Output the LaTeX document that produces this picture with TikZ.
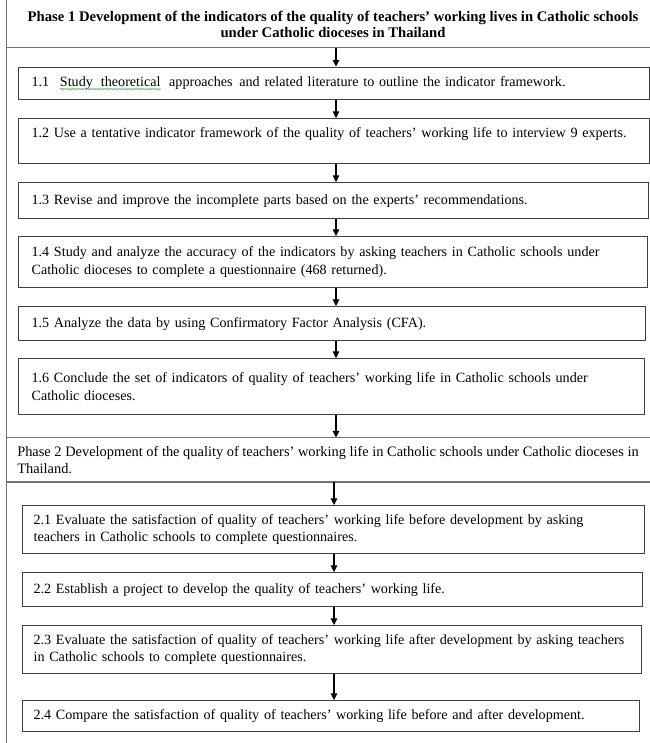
\documentclass[tikz,border=0pt]{standalone}
\usepackage{fontspec}
\setmainfont{Liberation Serif}
\usetikzlibrary{arrows.meta,decorations.pathmorphing}
\definecolor{boxc}{gray}{0.25}
\definecolor{linec}{gray}{0.45}
\definecolor{wavec}{rgb}{0.35,0.7,0.35}
\newsavebox\wavebox
\newcommand\gwave[1]{\sbox\wavebox{#1}\rlap{\usebox\wavebox}%
  \raisebox{-2.6pt}{\tikz{\draw[wavec, line width=0.45pt, decorate,
      decoration={snake, amplitude=0.55pt, segment length=2.2pt}] (0pt,0pt) -- (\wd\wavebox,0pt);}}}
\tikzset{
  stepbox/.style={draw=boxc, line width=0.9pt, anchor=north west, align=left,
    inner ysep=0pt, font=\fontsize{10.6}{13.1}\selectfont},
  sepline/.style={draw=linec, line width=0.9pt},
  flowarrow/.style={draw=black, line width=0.8pt, -{Triangle[length=5pt,width=5pt]}},
}
% name, x1, x2, y1, y2, padding (px), text
\newcommand\mybox[7]{%
  \pgfmathsetmacro\myBW{(#3-#2)*0.75}%
  \pgfmathsetmacro\myBH{(#5-#4)*0.75}%
  \pgfmathsetmacro\myPD{#6*0.75}%
  \pgfmathsetmacro\myTW{(#3-#2-2*#6)*0.75}%
  \node[stepbox, minimum width=\myBW pt, minimum height=\myBH pt,
        inner xsep=\myPD pt, text width=\myTW pt] (#1) at (#2,#4) {#7};}
\begin{document}
\begin{tikzpicture}[x=0.75pt, y=-0.75pt]
\useasboundingbox (0,0) rectangle (650,743);
% frame lines
\coordinate (tl) at (6.5,0);
\coordinate (bl) at (6.5,743);
\coordinate (rr) at (650,0);
\coordinate (s1) at (6.5,47.5);
\coordinate (s2a) at (6.5,437.5);
\coordinate (s2b) at (6.5,482);
\coordinate (ax) at (336,0);
\coordinate (bx) at (334,0);
\draw[sepline] (tl) -- (bl);
\draw[sepline] (s1) -- (s1 -| rr);
\draw[sepline] (s2a) -- (s2a -| rr);
\draw[sepline] (s2b) -- (s2b -| rr);
% headers
\node[font=\bfseries\fontsize{11}{12.2}\selectfont, align=center, inner sep=0pt] (h1) at (333,24.5)
  {Phase 1 Development of the indicators of the quality of teachers’ working lives in Catholic schools\\
   under Catholic dioceses in Thailand};
\node[font=\fontsize{10.8}{12.2}\selectfont, align=left, anchor=west, inner sep=0pt] (h2) at (17,460)
  {\mbox{Phase 2 Development of the quality of teachers’ working life in Catholic schools under Catholic dioceses in}\\
   Thailand.};
% phase 1 boxes
\mybox{b11}{18}{649}{66.5}{99}{13}{\mbox{1.1\hspace{8pt}\gwave{Study\hspace{6pt}theoretical}\hspace{6pt}approaches\hspace{5pt}and related literature to outline the indicator framework.}}
\mybox{b12}{18}{649}{118}{163}{13}{\mbox{1.2 Use a tentative indicator framework of the quality of teachers’ working life to interview 9 experts.}\\ \mbox{}}
\mybox{b13}{18}{648}{182}{218}{13}{\mbox{1.3 Revise and improve the incomplete parts based on the experts’ recommendations.}}
\mybox{b14}{18}{647}{236}{287}{13}{\mbox{1.4 Study and analyze the accuracy of the indicators by asking teachers in Catholic schools under}\\ \mbox{Catholic dioceses to complete a questionnaire (468 returned).}}
\mybox{b15}{18}{645}{306}{340}{13}{\mbox{1.5 Analyze the data by using Confirmatory Factor Analysis (CFA).}}
\mybox{b16}{18}{644}{358}{414}{13}{\mbox{1.6 Conclude the set of indicators of quality of teachers’ working life in Catholic schools under}\\ \mbox{Catholic dioceses.}}
% phase 2 boxes
\mybox{b21}{22}{644}{505}{553}{11}{\mbox{2.1 Evaluate the satisfaction of quality of teachers’ working life before development by asking}\\ \mbox{teachers in Catholic schools to complete questionnaires.}}
\mybox{b22}{22}{642}{572}{606}{11}{\mbox{2.2 Establish a project to develop the quality of teachers’ working life.}}
\mybox{b23}{22}{641}{625}{673}{11}{\mbox{2.3 Evaluate the satisfaction of quality of teachers’ working life after development by asking teachers}\\ \mbox{in Catholic schools to complete questionnaires.}}
\mybox{b24}{22}{639}{700}{731}{11}{\mbox{2.4 Compare the satisfaction of quality of teachers’ working life before and after development.}}
% arrows
\draw[flowarrow] (s1 -| ax) -- (b11.north -| ax);
\draw[flowarrow] (b11.south -| ax) -- (b12.north -| ax);
\draw[flowarrow] (b12.south -| ax) -- (b13.north -| ax);
\draw[flowarrow] (b13.south -| ax) -- (b14.north -| ax);
\draw[flowarrow] (b14.south -| ax) -- (b15.north -| ax);
\draw[flowarrow] (b15.south -| ax) -- (b16.north -| ax);
\draw[flowarrow] (b16.south -| ax) -- (s2a -| ax);
\draw[flowarrow] (s2b -| bx) -- (b21.north -| bx);
\draw[flowarrow] (b21.south -| bx) -- (b22.north -| bx);
\draw[flowarrow] (b22.south -| bx) -- (b23.north -| bx);
\draw[flowarrow] (b23.south -| bx) -- (b24.north -| bx);
\end{tikzpicture}
\end{document}
